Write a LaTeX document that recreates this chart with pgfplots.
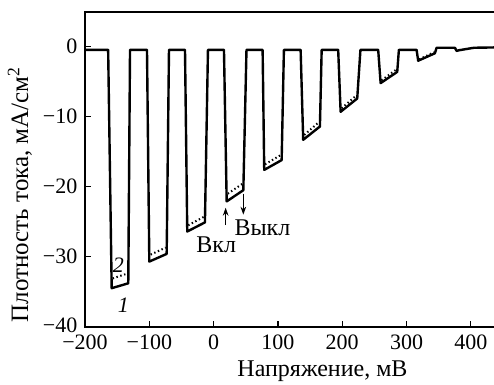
\documentclass[border=0pt]{standalone}
\usepackage{fontspec}
\setmainfont{Liberation Serif}
\usepackage{pgfplots}
\pgfplotsset{compat=1.18}
\usetikzlibrary{arrows.meta}

% Chopped-light voltammogram: solid curve 1, dotted curve 2 (under illumination)
\pgfplotstableread{
x y
-200 -0.45
-164 -0.45
-158.5 -34.5
-132.7 -33.8
-130 -0.45
-103.6 -0.45
-100 -30.7
-73 -29.6
-69.4 -0.45
-44.5 -0.45
-41 -26.4
-13.5 -25.1
-8.8 -0.45
16.1 -0.45
20.3 -22.1
46.2 -20.5
51.1 -0.45
76.2 -0.45
78.7 -17.6
105.8 -16.2
109.3 -0.45
135.3 -0.45
139.3 -13.3
165.3 -11.4
168 -0.45
193.7 -0.45
197.5 -9.3
223.3 -7.4
228.3 -0.45
255.9 -0.45
259.7 -5.2
285.5 -3.6
288.1 -0.45
315.6 -0.45
318.1 -2.0
344.1 -0.94
346.7 -0.15
375.2 -0.15
377.8 -0.6
382 -0.5
395 -0.3
405 -0.15
440 -0.1
}\curveone

\pgfplotstableread{
x y
-157 -33.1
-134 -32.4
nan nan
-98 -29.7
-74.5 -28.7
nan nan
-39.5 -25.5
-15 -24.3
nan nan
22 -21.0
44.5 -19.6
nan nan
80 -16.8
104 -15.5
nan nan
141 -12.6
163.5 -10.8
nan nan
199 -8.8
221.5 -7.0
nan nan
261 -4.8
283.5 -3.3
nan nan
319.5 -1.8
342.5 -0.8
}\curvetwo

\begin{document}
\fontsize{11pt}{13pt}\selectfont
\begin{tikzpicture}
\begin{axis}[
  scale only axis,
  width=205.8pt, height=157.5pt,
  xmin=-200, xmax=440,
  ymin=-40, ymax=5,
  axis line style={line width=1pt},
  tick align=inside,
  tick pos=left,
  major tick length=3pt,
  tick style={line width=0.6pt, black},
  xtick={-200,-100,0,100,200,300,400},
  xticklabels={−200,−100,0,100,200,300,400},
  ytick={-40,-30,-20,-10,0},
  yticklabels={\raisebox{2pt}{−40},−30,−20,−10,0},
  xlabel={Напряжение, мВ},
  ylabel={Плотность тока, мА/см\textsuperscript{2}},
  xlabel style={at={(axis description cs:0.577,-0.14)}, anchor=center, font=\fontsize{12pt}{14pt}\selectfont},
  ylabel style={at={(axis description cs:-0.158,0.42)}, anchor=center, font=\fontsize{12.5pt}{14pt}\selectfont},
  unbounded coords=jump,
  clip=true,
]
\addplot[black, line width=1.2pt, line join=round] table[x=x,y=y] {\curveone};
\addplot[black, line width=1pt, dash pattern=on 0.7pt off 1.3pt] table[x=x,y=y] {\curvetwo};

\node at (axis cs:-140.4,-37.0) {\textit{1}};
\node at (axis cs:-148.2,-31.2) {\textit{2}};
\node[font=\fontsize{12pt}{14pt}\selectfont] at (axis cs:4,-28.3) {Вкл};
\node[font=\fontsize{12pt}{14pt}\selectfont] at (axis cs:76,-25.8) {Выкл};
\draw[-{Stealth[length=4pt,width=2.8pt]}, line width=0.6pt] (axis cs:18.7,-25.5) -- (axis cs:18.7,-23.0);
\draw[-{Stealth[length=4pt,width=2.8pt]}, line width=0.6pt] (axis cs:46.2,-21.0) -- (axis cs:46.2,-24.0);
\end{axis}
\pgfresetboundingbox
\path[use as bounding box] ([xshift=-42.5pt,yshift=-29pt]current axis.south west) rectangle ([xshift=204.5pt,yshift=5.85pt]current axis.north west);
\end{tikzpicture}
\end{document}
